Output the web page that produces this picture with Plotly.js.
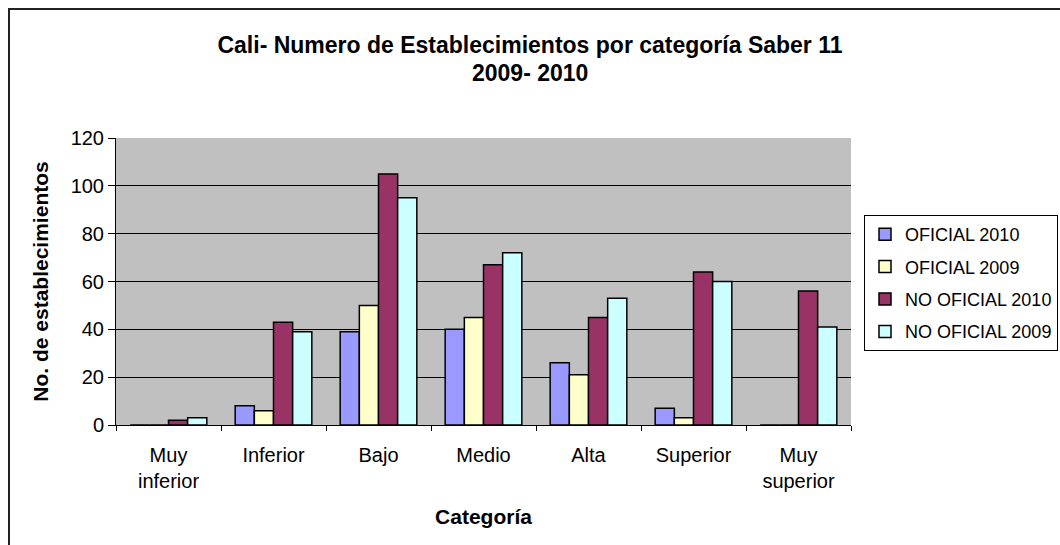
<!DOCTYPE html>
<html>
<head>
<meta charset="utf-8">
<script src="https://cdn.plot.ly/plotly-3.0.1.min.js"></script>
<style>
  html, body { margin: 0; padding: 0; background: #fff; overflow: hidden; }
  #wrap { position: relative; width: 1060px; height: 545px; overflow: hidden; }
  #frame { position: absolute; left: 8px; top: 8px; width: 1100px; height: 600px;
           border-left: 2px solid #222; border-top: 2px solid #222; pointer-events: none; }
  #chart { position: absolute; left: 0; top: 0; width: 1120px; height: 545px; }
</style>
</head>
<body>
<div id="wrap">
  <div id="chart"></div>
  <div id="frame"></div>
</div>
<script>
const categories = ['Muy<br>inferior', 'Inferior', 'Bajo', 'Medio', 'Alta', 'Superior', 'Muy<br>superior'];
const oficial2010 = [0, 8, 39, 40, 26, 7, 0];
const oficial2009 = [0, 6, 50, 45, 21, 3, 0];
const noOficial2010 = [2, 43, 105, 67, 45, 64, 56];
const noOficial2009 = [3, 39, 95, 72, 53, 60, 41];

const font = '"Liberation Sans", Arial, sans-serif';

function barTrace(name, values, color) {
    return {
        x: categories,
        y: values,
        type: 'bar',
        name: name,
        legendgroup: name,
        marker: { color: color, line: { color: '#000', width: 1.5 } },
        hoverinfo: 'x+y+name'
    };
}

const traces = [
    barTrace('OFICIAL 2010', oficial2010, '#9999ff'),
    barTrace('OFICIAL 2009', oficial2009, '#ffffcc'),
    barTrace('NO OFICIAL 2010', noOficial2010, '#993366'),
    barTrace('NO OFICIAL 2009', noOficial2009, '#ccffff')
];

// chart is drawn a bit wider than the window so the legend box runs off the right edge like the original
const layout = {
    width: 1120,
    height: 545,
    margin: { l: 116, r: 269, t: 138, b: 120 },
    paper_bgcolor: 'rgba(0,0,0,0)',
    plot_bgcolor: '#c0c0c0',
    font: { family: font, size: 20, color: '#000' },
    title: {
        text: '<b>Cali- Numero de Establecimientos por categoría Saber 11</b>',
        font: { family: font, size: 23, color: '#000' },
        x: 530 / 1120, xref: 'container', xanchor: 'center',
        y: 1 - 45 / 545, yref: 'container', yanchor: 'middle'
    },
    annotations: [{
        text: '<b>2009- 2010</b>',
        font: { family: font, size: 23, color: '#000' },
        xref: 'paper', yref: 'paper',
        x: (530 - 116) / 735, y: (425 - 73) / 287,
        xanchor: 'center', yanchor: 'middle',
        showarrow: false
    }],
    barmode: 'group',
    bargap: 0.27,
    bargroupgap: 0,
    xaxis: {
        title: { text: '<b>Categoría</b>', font: { family: font, size: 21 }, standoff: 18 },
        showline: true,
        linecolor: '#000',
        linewidth: 1,
        ticks: 'outside',
        tickson: 'boundaries',
        ticklen: 5,
        tickcolor: '#000',
        showgrid: false,
        ticklabelstandoff: 12,
        tickfont: { size: 20 }
    },
    yaxis: {
        title: { text: '<b>No. de establecimientos</b>', font: { family: font, size: 21 }, standoff: 16 },
        range: [0, 120],
        dtick: 20,
        showline: true,
        linecolor: '#000',
        linewidth: 1,
        ticks: 'outside',
        ticklen: 7,
        tickcolor: '#000',
        gridcolor: '#000',
        gridwidth: 1,
        zeroline: false,
        tickfont: { size: 20 }
    },
    legend: {
        x: (864 - 116) / 735, xanchor: 'left',
        y: (425 - 215) / 287, yanchor: 'top',
        bgcolor: '#fff',
        bordercolor: '#000',
        borderwidth: 1,
        traceorder: 'grouped',
        tracegroupgap: 6,
        font: { family: font, size: 18 }
    },
    showlegend: true
};

Plotly.newPlot('chart', traces, layout, { displayModeBar: false, staticPlot: true });
</script>
</body>
</html>
